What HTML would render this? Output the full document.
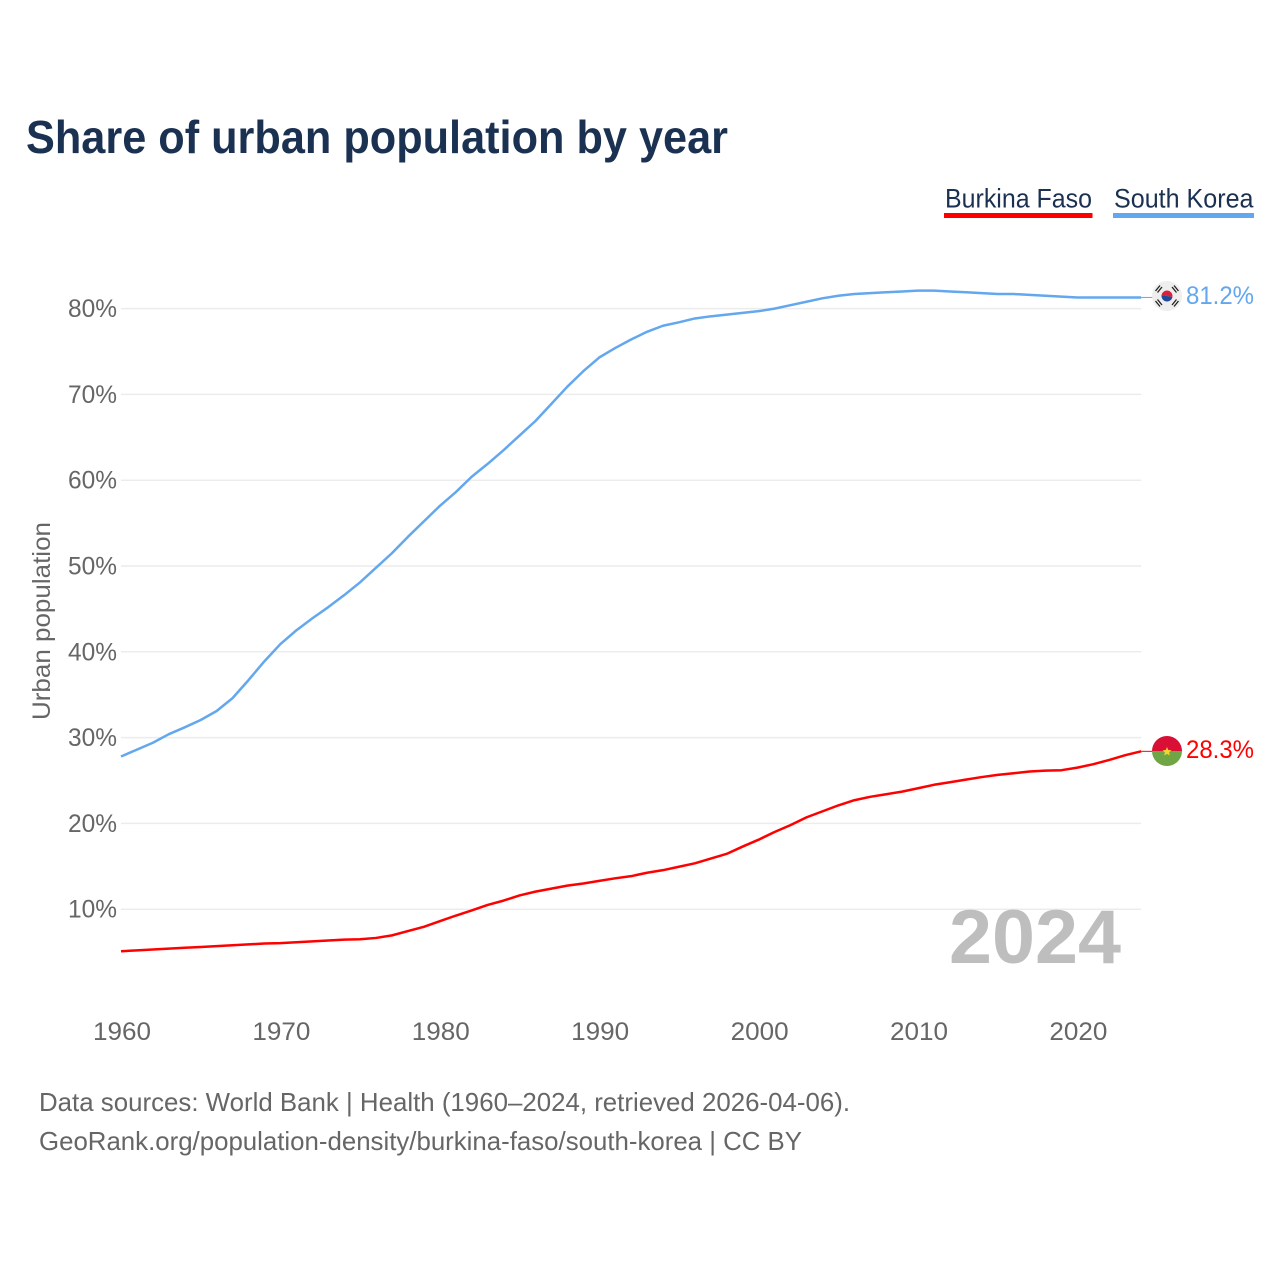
<!DOCTYPE html>
<html lang="en">
<head>
<meta charset="utf-8">
<title>Share of urban population by year</title>
<style>
  html, body { margin: 0; padding: 0; background: #fff; }
  svg { display: block; font-family: "Liberation Sans", sans-serif; }
</style>
</head>
<body>
<svg id="chart" width="1280" height="1280" viewBox="0 0 1280 1280" xmlns="http://www.w3.org/2000/svg">
  <defs>
    <clipPath id="flag-clip-kr"><circle cx="1167" cy="296" r="15"/></clipPath>
    <clipPath id="flag-clip-bf"><circle cx="1167" cy="751" r="15"/></clipPath>
  </defs>
  <rect width="1280" height="1280" fill="#fff"/>
  <text x="26" y="153" font-size="46" font-weight="700" fill="#1a3152" textLength="702" lengthAdjust="spacingAndGlyphs">Share of urban population by year</text>

  <g>
    <g>
      <text x="945" y="207.500" font-size="27" fill="#1a3152" textLength="147" lengthAdjust="spacingAndGlyphs">Burkina Faso</text>
      <rect x="944" y="213" width="148.500" height="5" fill="#ff0000"/>
    </g>
    <g>
      <text x="1114" y="207.500" font-size="27" fill="#1a3152" textLength="139.500" lengthAdjust="spacingAndGlyphs">South Korea</text>
      <rect x="1113" y="213" width="141" height="5" fill="#63a7ee"/>
    </g>
  </g>

  <g id="grid"></g>
  <g id="y-axis"></g>
  <g id="x-axis"></g>
  <text transform="translate(50 621) rotate(-90)" text-anchor="middle" font-size="25" fill="#666" textLength="198" lengthAdjust="spacingAndGlyphs">Urban population</text>

  <text x="949" y="963" font-size="76" font-weight="700" fill="#bebebe" textLength="172" lengthAdjust="spacingAndGlyphs">2024</text>

  <g id="series"></g>

  <g clip-path="url(#flag-clip-kr)">
    <rect x="1152" y="281" width="30" height="30" fill="#eeeeee"/>
    <g transform="rotate(10 1167 296)">
      <path d="M1161.500 296a5.500 5.500 0 0 1 11 0z" fill="#d8213a"/>
      <path d="M1161.500 296a5.500 5.500 0 0 0 11 0z" fill="#1f4a9c"/>
    </g>
    <g stroke="#222" stroke-width="1.300" fill="none">
      <path d="M1155.500 291l4.500-5.500M1157.500 292.500l4.500-5.500"/>
      <path d="M1172 287l4.500 5.500M1174 285.500l4.500 5.500"/>
      <path d="M1155.500 301l4.500 5.500M1157.500 299.500l4.500 5.500"/>
      <path d="M1172 305l4.500-5.500M1174 306.500l4.500-5.500"/>
    </g>
  </g>
  <g clip-path="url(#flag-clip-bf)">
    <rect x="1152" y="736" width="30" height="15" fill="#d90f36"/>
    <rect x="1152" y="751" width="30" height="15" fill="#6fa544"/>
    <polygon points="1167,747 1168.300,750 1171.500,750.300 1169.100,752.400 1169.800,755.500 1167,753.900 1164.200,755.500 1164.900,752.400 1162.500,750.300 1165.700,750" fill="#f4d430"/>
  </g>

  <text x="1186" y="304" font-size="25" fill="#63a7ee" textLength="68" lengthAdjust="spacingAndGlyphs">81.2%</text>
  <text x="1186" y="758" font-size="25" fill="#ff0000" textLength="68" lengthAdjust="spacingAndGlyphs">28.3%</text>

  <g font-size="26" fill="#666">
    <text x="39" y="1111" textLength="811" lengthAdjust="spacingAndGlyphs">Data sources: World Bank | Health (1960–2024, retrieved 2026-04-06).</text>
    <text x="39" y="1150" textLength="763" lengthAdjust="spacingAndGlyphs">GeoRank.org/population-density/burkina-faso/south-korea | CC BY</text>
  </g>
</svg>
<script>
const startYear = 1960;
const yTicks = [10, 20, 30, 40, 50, 60, 70, 80];
const xTicks = [1960, 1970, 1980, 1990, 2000, 2010, 2020];
const southKorea = [
  27.8, 28.6, 29.4, 30.4, 31.2, 32.05, 33.1, 34.6, 36.7, 38.9,
  40.9, 42.5, 43.9, 45.2, 46.6, 48.1, 49.8, 51.5, 53.4, 55.2,
  57.0, 58.6, 60.4, 61.9, 63.5, 65.2, 66.9, 68.9, 70.9, 72.7,
  74.3, 75.4, 76.4, 77.3, 78.0, 78.4, 78.85, 79.1, 79.3, 79.5,
  79.7, 80.0, 80.4, 80.8, 81.2, 81.5, 81.7, 81.8, 81.9, 82.0,
  82.1, 82.1, 82.0, 81.9, 81.8, 81.7, 81.7, 81.6, 81.5, 81.4,
  81.3, 81.3, 81.3, 81.3, 81.3
];
const burkinaFaso = [
  5.1, 5.2, 5.3, 5.4, 5.5, 5.6, 5.7, 5.8, 5.9, 6.0,
  6.05, 6.15, 6.25, 6.35, 6.45, 6.5, 6.65, 6.95, 7.45, 7.95,
  8.6, 9.25, 9.85, 10.5, 11.0, 11.6, 12.05, 12.4, 12.75, 13.0,
  13.3, 13.6, 13.85, 14.25, 14.55, 14.95, 15.35, 15.9, 16.45, 17.3,
  18.1, 19.0, 19.8, 20.7, 21.4, 22.1, 22.7, 23.1, 23.4, 23.7,
  24.1, 24.5, 24.8, 25.1, 25.4, 25.65, 25.85, 26.05, 26.15, 26.2,
  26.5, 26.9, 27.4, 27.95, 28.4
];

const SVG_NS = 'http://www.w3.org/2000/svg';
const xScale = function (year) { return 121 + (year - 1960) * 15.94; };
const yScale = function (value) { return 995 - value * 8.58; };

const gridGroup = document.getElementById('grid');
const yAxisGroup = document.getElementById('y-axis');
const xAxisGroup = document.getElementById('x-axis');
const seriesGroup = document.getElementById('series');

yTicks.forEach(function (tick) {
  const line = document.createElementNS(SVG_NS, 'line');
  
  
  line.setAttribute('x1', xScale(1960));
  line.setAttribute('x2', xScale(2024));
  line.setAttribute('y1', yScale(tick));
  line.setAttribute('y2', yScale(tick));
  line.setAttribute('stroke', '#ececec');
  line.setAttribute('stroke-width', '1.5');
  gridGroup.appendChild(line);

  const label = document.createElementNS(SVG_NS, 'text');
  
  
  label.setAttribute('x', 117);
  label.setAttribute('y', yScale(tick) + 8.5);
  label.setAttribute('text-anchor', 'end');
  label.setAttribute('font-size', '25');
  label.setAttribute('fill', '#666');
  label.setAttribute('textLength', '49');
  label.setAttribute('lengthAdjust', 'spacingAndGlyphs');
  label.textContent = tick + '%';
  yAxisGroup.appendChild(label);
});

xTicks.forEach(function (tick) {
  const label = document.createElementNS(SVG_NS, 'text');
  
  
  label.setAttribute('x', xScale(tick) + 1);
  label.setAttribute('y', 1040);
  label.setAttribute('text-anchor', 'middle');
  label.setAttribute('font-size', '25');
  label.setAttribute('fill', '#666');
  label.setAttribute('textLength', '58');
  label.setAttribute('lengthAdjust', 'spacingAndGlyphs');
  label.textContent = tick;
  xAxisGroup.appendChild(label);
});

function buildPath(values) {
  return values.map(function (value, index) {
    return (index === 0 ? 'M' : 'L') + xScale(startYear + index).toFixed(2) + ' ' + yScale(value).toFixed(2);
  }).join(' ');
}

function lastPoint(values) {
  return [xScale(startYear + values.length - 1), yScale(values[values.length - 1])];
}

const koreaLine = document.createElementNS(SVG_NS, 'path');


koreaLine.setAttribute('d', buildPath(southKorea));
koreaLine.setAttribute('fill', 'none');
koreaLine.setAttribute('stroke', '#63a7ee');
koreaLine.setAttribute('stroke-width', '2.5');
koreaLine.setAttribute('stroke-linejoin', 'round');
seriesGroup.appendChild(koreaLine);

const burkinaLine = document.createElementNS(SVG_NS, 'path');


burkinaLine.setAttribute('d', buildPath(burkinaFaso));
burkinaLine.setAttribute('fill', 'none');
burkinaLine.setAttribute('stroke', '#ff0000');
burkinaLine.setAttribute('stroke-width', '2.5');
burkinaLine.setAttribute('stroke-linejoin', 'round');
seriesGroup.appendChild(burkinaLine);

const koreaEnd = lastPoint(southKorea);
const koreaConnector = document.createElementNS(SVG_NS, 'line');


koreaConnector.setAttribute('x1', koreaEnd[0]);
koreaConnector.setAttribute('y1', koreaEnd[1]);
koreaConnector.setAttribute('x2', koreaEnd[0] + 12);
koreaConnector.setAttribute('y2', koreaEnd[1]);
koreaConnector.setAttribute('stroke', '#63a7ee');
koreaConnector.setAttribute('stroke-width', '1');
seriesGroup.appendChild(koreaConnector);

const burkinaEnd = lastPoint(burkinaFaso);
const burkinaConnector = document.createElementNS(SVG_NS, 'line');


burkinaConnector.setAttribute('x1', burkinaEnd[0]);
burkinaConnector.setAttribute('y1', burkinaEnd[1]);
burkinaConnector.setAttribute('x2', burkinaEnd[0] + 12);
burkinaConnector.setAttribute('y2', burkinaEnd[1]);
burkinaConnector.setAttribute('stroke', '#ff0000');
burkinaConnector.setAttribute('stroke-width', '1');
seriesGroup.appendChild(burkinaConnector);
</script>
</body>
</html>
